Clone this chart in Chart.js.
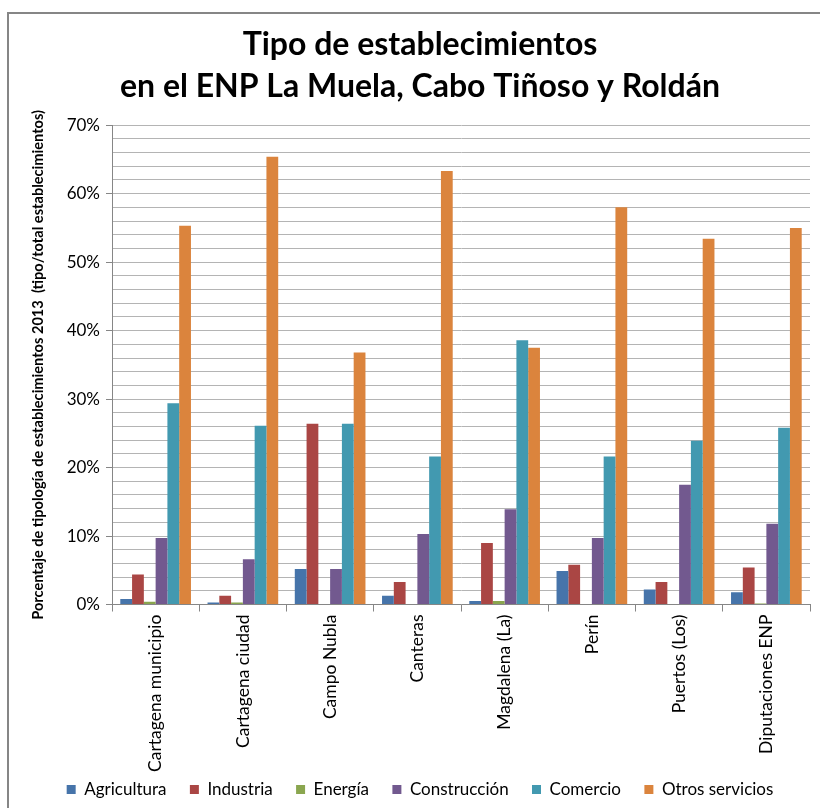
<!DOCTYPE html>
<html>
<head>
<meta charset="utf-8">
<script src="https://cdn.jsdelivr.net/npm/chart.js@4/dist/chart.umd.min.js"></script>
<style>
  html, body { margin: 0; padding: 0; background: #fff; }
  #wrap { position: absolute; left: 0; top: 0; width: 820px; height: 808px; }
  #frame { position: absolute; left: 7px; top: 12px; width: 830px; height: 830px;
           border: 2px solid #868686; box-sizing: border-box; pointer-events: none; }
</style>
</head>
<body>
<div id="wrap">
  <canvas id="myChart" width="820" height="808"></canvas>
  <div id="frame"></div>
</div>
<script>
let categories = ["Cartagena municipio", "Cartagena ciudad", "Campo Nubla", "Canteras",
                  "Magdalena (La)", "Perín", "Puertos (Los)", "Diputaciones ENP"];

let agricultura  = [0.8, 0.3, 5.2, 1.3, 0.5, 4.9, 2.2, 1.8];
let industria    = [4.4, 1.3, 26.4, 3.3, 9.0, 5.8, 3.3, 5.4];
let energia      = [0.4, 0.3, 0, 0, 0.5, 0, 0, 0.15];
let construccion = [9.7, 6.6, 5.2, 10.3, 13.9, 9.7, 17.5, 11.8];
let comercio     = [29.4, 26.1, 26.4, 21.6, 38.6, 21.6, 23.9, 25.8];
let otros        = [55.3, 65.4, 36.8, 63.3, 37.5, 58.0, 53.4, 55.0];

let seriesNames = ["Agricultura", "Industria", "Energía", "Construcción", "Comercio", "Otros servicios"];
let seriesColors = ["#4674AA", "#AA4644", "#8AA64F", "#72598F", "#4299B0", "#DB843D"];
let seriesData = [agricultura, industria, energia, construccion, comercio, otros];

let fontFamily = "Lato, 'Open Sans', sans-serif";

let myChart = document.getElementById("myChart").getContext("2d");

let barChart = new Chart(myChart, {
    type: "bar",
    data: {
        labels: categories,
        datasets: seriesData.map((d, i) => ({
            label: seriesNames[i],
            data: d,
            backgroundColor: seriesColors[i],
            borderWidth: 0,
            categoryPercentage: 0.81,
            barPercentage: 1
        }))
    },
    options: {
        responsive: false,
        animation: false,
        layout: { padding: { left: 30, right: 10, top: 24, bottom: 0 } },
        plugins: {
            title: {
                display: true,
                text: ["Tipo de establecimientos", "en el ENP La Muela, Cabo Tiñoso y Roldán"],
                color: "#000",
                font: { family: fontFamily, size: 32, weight: "bold", lineHeight: 1.3 },
                padding: { top: 0, bottom: 18 }
            },
            legend: {
                position: "bottom",
                labels: {
                    color: "#000",
                    boxWidth: 9,
                    boxHeight: 9,
                    padding: 6,
                    font: { family: fontFamily, size: 17 },
                    // small vertical padding, wider gap between items via trailing spaces
                    generateLabels: (chart) => {
                        let items = Chart.defaults.plugins.legend.labels.generateLabels(chart);
                        items.forEach((it, i) => {
                            if (i < items.length - 1) it.text = it.text + "    ";
                        });
                        return items;
                    }
                }
            },
            tooltip: { enabled: false }
        },
        scales: {
            x: {
                grid: {
                    offset: true,
                    drawOnChartArea: false,
                    tickLength: 7,
                    color: "#868686"
                },
                border: { color: "#868686", width: 1 },
                ticks: {
                    color: "#000",
                    minRotation: 90,
                    maxRotation: 90,
                    padding: 3,
                    font: { family: fontFamily, size: 17.5 }
                }
            },
            y: {
                min: 0,
                max: 70,
                afterFit: (scale) => { scale.width = 82; },
                grid: {
                    color: "#b4b4b4",
                    tickLength: 6,
                    tickColor: (ctx) => (ctx.tick && ctx.tick.value % 10 === 0) ? "#868686" : "rgba(0,0,0,0)"
                },
                border: { color: "#868686", width: 1 },
                ticks: {
                    stepSize: 2,
                    autoSkip: false,
                    color: "#000",
                    padding: 6,
                    font: { family: fontFamily, size: 17 },
                    callback: (v) => (v % 10 === 0 ? v + "%" : "")
                },
                title: {
                    display: true,
                    text: "Porcentaje de tipología de establecimientos 2013  (tipo/total establecimientos)",
                    color: "#000",
                    font: { family: fontFamily, size: 14.6, weight: "bold" },
                    padding: 0
                }
            }
        }
    }
});
</script>
</body>
</html>
